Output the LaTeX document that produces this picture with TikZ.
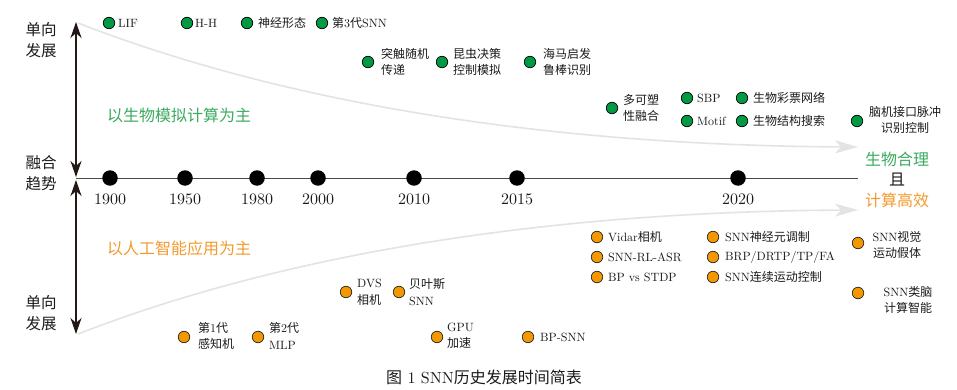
\documentclass[tikz,border=0pt]{standalone}
\usepackage{fontspec}
\setmainfont{lmroman10-regular}[Extension=.otf]
\newfontfamily\cjk{Noto Sans CJK SC}
\newcommand\C[1]{{\cjk #1}}
\usetikzlibrary{arrows.meta}
\definecolor{dkline}{HTML}{231815}
\definecolor{tline}{HTML}{504848}
\definecolor{gdot}{HTML}{009A44}
\definecolor{odot}{HTML}{F39800}
\definecolor{gtxt}{HTML}{3BAA5E}
\definecolor{otxt}{HTML}{F29A2E}
\definecolor{curvegray}{HTML}{E3E3E3}
\definecolor{txt}{HTML}{1A1A1A}
\begin{document}
\begin{tikzpicture}[x=1pt,y=-1pt,
  gd/.style={circle,draw=black,fill=gdot,line width=0.7pt,minimum size=11.5pt,inner sep=0pt},
  od/.style={circle,draw=black!85,fill=odot,line width=0.7pt,minimum size=11.5pt,inner sep=0pt},
  yr/.style={circle,fill=black,minimum size=15.5pt,inner sep=0pt},
  yrl/.style={font=\fontsize{16}{18}\selectfont,text=txt,inner sep=0pt},
  lbl/.style={font=\fontsize{12}{16.5}\selectfont,anchor=west,align=left,inner sep=0pt,text=txt},
  lblc/.style={font=\fontsize{12}{16}\selectfont,align=center,inner sep=0pt,text=txt},
  side/.style={font=\fontsize{15.5}{20.5}\selectfont\cjk,align=center,inner sep=0pt,text=txt},
  big/.style={font=\fontsize{16}{20}\selectfont\cjk,inner sep=0pt},
  varrow/.style={dkline,line width=1.8pt,{Stealth[length=16pt,width=11pt,inset=5pt]}-{Stealth[length=16pt,width=11pt,inset=5pt]}},
  gcurve/.style={curvegray,line width=1.6pt,-{Stealth[length=23pt,width=13pt,inset=6pt]}}]
\useasboundingbox (0,0) rectangle (957,390);

% coordinates
\coordinate (vt) at (76,22);
\coordinate (vm1) at (76,177);
\coordinate (vm2) at (76,180);
\coordinate (vb) at (76,334);
\coordinate (tl0) at (76,178);
\coordinate (tl1) at (858,178);
\coordinate (ct0) at (78,23);
\coordinate (ct1) at (858,147);
\coordinate (cb0) at (78,334);
\coordinate (cb1) at (858,210);

% gray trend curves
\draw[gcurve] (ct0) .. controls (250,90) and (500,145) .. (ct1);
\draw[gcurve] (cb0) .. controls (250,267) and (500,212) .. (cb1);

% timeline
\draw[tline,line width=1pt] (tl0) -- (tl1);
% vertical arrows
\draw[varrow] (vt) -- (vm1);
\draw[varrow] (vm2) -- (vb);

% year dots
\foreach \x/\y in {110/1900,185/1950,257/1980,318/2000,414/2010,517/2015,738/2020}{
  \node[yr] (d\y) at (\x,178) {};
  \node[yrl] (l\y) at (\x,199) {\y};
}

% side labels
\node[side] (s1) at (41,40) {单向\\发展};
\node[side] (s2) at (41,173) {融合\\趋势};
\node[side] (s3) at (41,313) {单向\\发展};

% titles
\node[big,text=gtxt,anchor=west] (gt) at (107,115) {以生物模拟计算为主};
\node[big,text=otxt,anchor=west] (ot) at (107,248) {以人工智能应用为主};
\node[big,text=gtxt] (r1) at (897,159) {生物合理};
\node[big,text=txt] (r2) at (897,180) {且};
\node[big,text=otxt] (r3) at (897,200) {计算高效};

% green items
\node[gd] (g1) at (109,23) {}; \node[lbl] at (118,23) {LIF};
\node[gd] (g2) at (187,23) {}; \node[lbl] at (195,23) {H-H};
\node[gd] (g3) at (247,23) {}; \node[lbl] at (258,23) {\C{神经形态}};
\node[gd] (g4) at (322,23) {}; \node[lbl] at (332,23) {\C{第}3\C{代}SNN};
\node[gd] (g5) at (368,62) {}; \node[lbl] at (381,62) {\C{突触随机}\\\C{传递}};
\node[gd] (g6) at (442,62) {}; \node[lbl] at (453,62) {\C{昆虫决策}\\\C{控制模拟}};
\node[gd] (g7) at (530,62) {}; \node[lbl] at (543,62) {\C{海马启发}\\\C{鲁棒识别}};
\node[gd] (g8) at (612,108) {}; \node[lbl] at (623,108) {\C{多可塑}\\\C{性融合}};
\node[gd] (g9) at (687,98) {}; \node[lbl] at (697,98) {SBP};
\node[gd] (g10) at (687,121) {}; \node[lbl] at (697,121) {Motif};
\node[gd] (g11) at (742,98) {}; \node[lbl] at (753,98) {\C{生物彩票网络}};
\node[gd] (g12) at (742,121) {}; \node[lbl] at (753,121) {\C{生物结构搜索}};
\node[gd] (g13) at (857,121) {}; \node[lblc] at (905,120) {\C{脑机接口脉冲}\\\C{识别控制}};

% orange items
\node[od] (o1) at (597,237) {}; \node[lbl] at (608,237) {Vidar\C{相机}};
\node[od] (o2) at (597,257) {}; \node[lbl] at (608,257) {SNN-RL-ASR};
\node[od] (o3) at (597,277) {}; \node[lbl] at (608,277) {BP vs STDP};
\node[od] (o4) at (713,237) {}; \node[lbl] at (725,237) {SNN\C{神经元调制}};
\node[od] (o5) at (713,257) {}; \node[lbl] at (725,257) {BRP/DRTP/TP/FA};
\node[od] (o6) at (713,277) {}; \node[lbl] at (725,277) {SNN\C{连续运动控制}};
\node[od] (o7) at (858,243) {}; \node[lblc] at (897,245) {SNN\C{视觉}\\\C{运动假体}};
\node[od] (o8) at (858,293) {}; \node[lblc] at (908,300) {SNN\C{类脑}\\\C{计算智能}};
\node[od] (o9) at (346,292) {}; \node[lbl] at (357,292) {DVS\\\C{相机}};
\node[od] (o10) at (399,292) {}; \node[lbl] at (409,292) {\C{贝叶斯}\\SNN};
\node[od] (o11) at (184,337) {}; \node[lbl] at (198,336) {\C{第}1\C{代}\\\C{感知机}};
\node[od] (o12) at (258,337) {}; \node[lbl] at (269,336) {\C{第}2\C{代}\\MLP};
\node[od] (o13) at (437,337) {}; \node[lbl] at (447,336) {GPU\\\C{加速}};
\node[od] (o14) at (528,337) {}; \node[lbl] at (540,337) {BP-SNN};

% caption
\node[font=\fontsize{16}{18}\selectfont,text=txt,inner sep=0pt] (cap) at (484,377) {\C{图} 1 SNN\C{历史发展时间简表}};
\end{tikzpicture}
\end{document}
